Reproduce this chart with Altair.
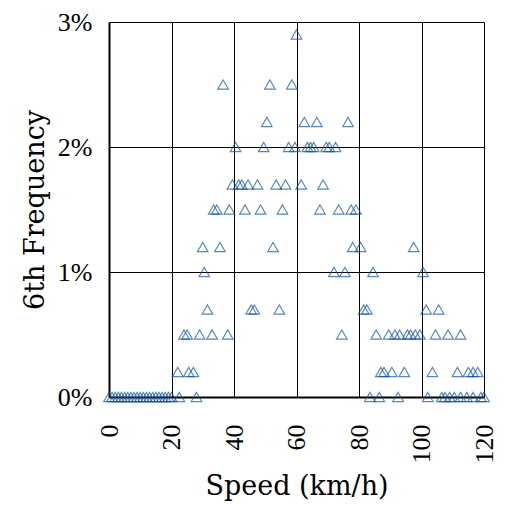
import altair as alt
import pandas as pd

# Speed (km/h) values grouped by their frequency level (%)
speeds_0 = [0, 1, 2, 3, 4, 5, 6, 7, 8, 9, 10, 11, 12, 13, 14, 15, 16, 17, 18, 19, 20,
            22.5, 28, 83.5, 86.5, 92.5, 102, 106.5, 107.5, 109, 110.5, 112.5, 114.5,
            116.5, 119, 120]
speeds_02 = [22, 25.5, 27, 87, 88, 90.5, 94.5, 103.5, 111.5, 115, 116.5, 118]
speeds_05 = [24, 25, 29, 33, 38, 74.5, 85.5, 89.5, 91.5, 93, 95.5, 96.5, 98, 99.5,
             104.5, 108.5, 112.5]
speeds_07 = [31.5, 45.5, 46.5, 54.5, 81.5, 82.5, 101.5, 105.5]
speeds_10 = [30.5, 72, 75.5, 84.5, 100.5]
speeds_12 = [30, 35.5, 52.5, 78, 80.5, 97.5]
speeds_15 = [33.5, 34.5, 38.5, 43.5, 48.5, 55.5, 67.5, 73.5, 77.5, 79]
speeds_17 = [39.5, 41.5, 42.5, 44.5, 47.5, 53.5, 56.5, 61.5, 68.5]
speeds_20 = [40.5, 49.5, 57.5, 59.5, 63.5, 64.5, 65.5, 69.5, 70.5, 72.5]
speeds_22 = [50.5, 62.5, 66.5, 76.5]
speeds_25 = [36.5, 51.5, 58.5]
speeds_29 = [60]

groups = [
    (0.0, speeds_0), (0.2, speeds_02), (0.5, speeds_05), (0.7, speeds_07),
    (1.0, speeds_10), (1.2, speeds_12), (1.5, speeds_15), (1.7, speeds_17),
    (2.0, speeds_20), (2.2, speeds_22), (2.5, speeds_25), (2.9, speeds_29),
]

x_ticks = [0, 20, 40, 60, 80, 100, 120]
y_ticks = [0, 1, 2, 3]

rows = []
for freq, sp in groups:
    for s in sp:
        rows.append({"speed": s, "freq": freq})
df = pd.DataFrame(rows)

FONT = "Liberation Serif"
TFONT = "DejaVu Serif"

chart = alt.Chart(df).mark_point(
    shape="triangle-up", filled=False, size=115, strokeWidth=1.1, color="#0f55a3"
).encode(
    x=alt.X("speed:Q",
            scale=alt.Scale(domain=[0, 120], nice=False),
            axis=alt.Axis(values=x_ticks, labelAngle=270, labelPadding=27,
                          ticks=False, title="Speed (km/h)", titlePadding=10,
                          labelFontSize=26, titleFontSize=27,
                          labelFont=FONT, titleFont=TFONT,
                          labelColor="black", titleColor="black",
                          titleFontWeight="normal",
                          grid=True, gridColor="black", gridWidth=1,
                          domainColor="black", domainWidth=2)),
    y=alt.Y("freq:Q",
            scale=alt.Scale(domain=[0, 3], nice=False),
            axis=alt.Axis(values=y_ticks, labelExpr="datum.value + '%'",
                          labelPadding=17, ticks=False,
                          title="6th Frequency", titlePadding=8,
                          labelFontSize=26, titleFontSize=27,
                          labelFont=FONT, titleFont=TFONT,
                          labelColor="black", titleColor="black",
                          titleFontWeight="normal",
                          grid=True, gridColor="black", gridWidth=1,
                          domainColor="black", domainWidth=2)),
).properties(
    width=375, height=375,
    autosize=alt.AutoSizeParams(type="none"),
    padding={"left": 109, "top": 22, "right": 28, "bottom": 115},
).configure_view(
    stroke="black", strokeWidth=2
).configure(background="white")

chart.save("out.html", embed_options={"renderer": "svg", "actions": False})
